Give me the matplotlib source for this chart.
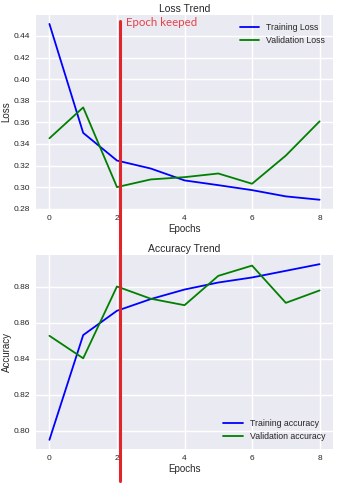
import matplotlib.pyplot as plt

plt.style.use('seaborn-v0_8')
plt.rcParams['font.family'] = ['Liberation Sans', 'DejaVu Sans']

epochs = [0, 1, 2, 3, 4, 5, 6, 7, 8]

train_loss = [0.4511, 0.3502, 0.3246, 0.3172, 0.3062, 0.3018, 0.2972, 0.2914, 0.2883]
val_loss = [0.3452, 0.3738, 0.3000, 0.3071, 0.3092, 0.3126, 0.3031, 0.3292, 0.3609]

train_acc = [0.7950, 0.8532, 0.8667, 0.8732, 0.8785, 0.8824, 0.8852, 0.8889, 0.8926]
val_acc = [0.8528, 0.8403, 0.8802, 0.8734, 0.8698, 0.8861, 0.8918, 0.8711, 0.8780]

keep_epoch = 2.08

fig = plt.figure(figsize=(3.42, 4.91), dpi=100)
ax1 = fig.add_axes([0.105, 0.5743, 0.869, 0.3952])
ax2 = fig.add_axes([0.105, 0.0855, 0.869, 0.3952])

# loss
ax1.plot(epochs, train_loss, color='blue', lw=1.3, label='Training Loss')
ax1.plot(epochs, val_loss, color='green', lw=1.3, label='Validation Loss')
ax1.set_ylim(0.2797, 0.4594)
ax1.set_title('Loss Trend', fontsize=7.5, pad=2.5)
ax1.set_xlabel('Epochs', fontsize=7, labelpad=2)
ax1.set_ylabel('Loss', fontsize=7, labelpad=2)
ax1.legend(loc='upper right', fontsize=6.3, frameon=False, handlelength=2.2)

# accuracy
ax2.plot(epochs, train_acc, color='blue', lw=1.3, label='Training accuracy')
ax2.plot(epochs, val_acc, color='green', lw=1.3, label='Validation accuracy')
ax2.set_ylim(0.7899, 0.8977)
ax2.set_title('Accuracy Trend', fontsize=7.5, pad=2.5)
ax2.set_xlabel('Epochs', fontsize=7, labelpad=2)
ax2.set_ylabel('Accuracy', fontsize=7, labelpad=1)
ax2.legend(loc='lower right', fontsize=6.3, frameon=False, handlelength=2.2)

for ax in (ax1, ax2):
    ax.set_xticks([0, 2, 4, 6, 8])
    ax.tick_params(labelsize=6, pad=4)

# marker for the kept epoch, running down through both plots
ax1.set_zorder(ax2.get_zorder() + 1)
ax1.axvline(keep_epoch, ymin=-1.402, ymax=0.969, color='#e0262b', lw=2.2, clip_on=False)
ax1.text(2.26, 0.4495, 'Epoch keeped', color='#e8404a', fontsize=8.3,
         family=['Lato', 'DejaVu Sans'], va='baseline')

fig.savefig('out.png', dpi=100)
